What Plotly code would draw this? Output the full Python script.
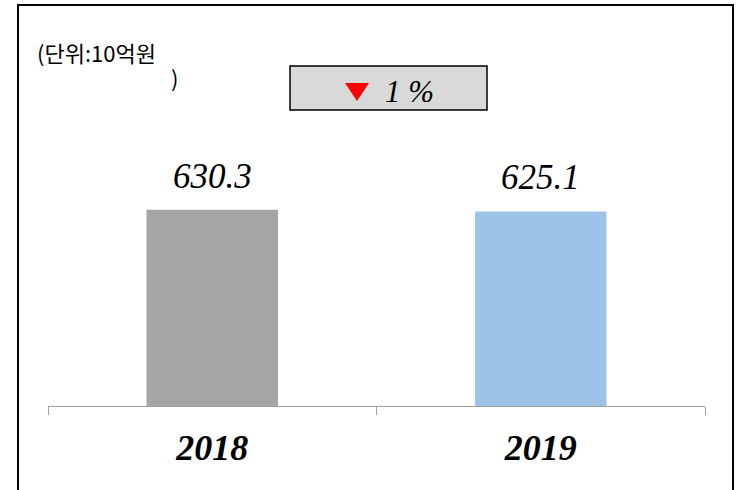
import plotly.graph_objects as go

categories = ["2018", "2019"]
values = [630.3, 625.1]
value_labels = ["630.3", "625.1"]
bar_colors = ["#a5a5a5", "#9dc3e6"]
change_label = "1 %"
unit_label_line1 = "(단위:10억원"
unit_label_line2 = ")"

W, H = 736, 490
L, R, T, B = 48, 31, 157, 84
pw, ph = W - L - R, H - T - B

def px(x):
    return (x - L) / pw

def py(y):
    return (H - B - y) / ph

SERIF = "Times New Roman, Liberation Serif, serif"

fig = go.Figure()
fig.add_trace(go.Bar(
    x=categories, y=values,
    marker=dict(color=bar_colors, line=dict(width=0)),
    hoverinfo="skip",
))

for i, (v, t) in enumerate(zip(values, value_labels)):
    fig.add_annotation(
        x=i, y=v, xref="x", yref="y", text=t, showarrow=False,
        yanchor="bottom", yshift=12,
        font=dict(family=SERIF, size=35, color="black", style="italic"),
    )

# outer border
fig.add_shape(type="rect", xref="paper", yref="paper",
              x0=px(18), x1=px(733), y0=py(520), y1=py(5),
              line=dict(color="black", width=2), fillcolor="rgba(0,0,0,0)", layer="above")
# change box
fig.add_shape(type="rect", xref="paper", yref="paper",
              x0=px(290), x1=px(487), y0=py(110), y1=py(66),
              line=dict(color="black", width=1.5), fillcolor="#d9d9d9")
# red triangle
fig.add_shape(type="path", xref="paper", yref="paper",
              path=f"M {px(345)},{py(83)} L {px(369)},{py(83)} L {px(357)},{py(101)} Z",
              line=dict(width=0), fillcolor="#ff0000")
fig.add_annotation(x=px(383), y=py(91), xref="paper", yref="paper", text=change_label,
                   showarrow=False, xanchor="left", yanchor="middle",
                   font=dict(family=SERIF, size=31, color="black", style="italic"))
fig.add_annotation(x=px(35), y=py(52), xref="paper", yref="paper", text=unit_label_line1,
                   showarrow=False, xanchor="left", yanchor="middle",
                   font=dict(family="Noto Sans CJK KR", size=22, color="black"))
fig.add_annotation(x=px(180), y=py(77), xref="paper", yref="paper", text=unit_label_line2,
                   showarrow=False, xanchor="right", yanchor="middle",
                   font=dict(family="Noto Sans CJK KR", size=22, color="black"))

fig.update_layout(
    width=W, height=H,
    margin=dict(l=L, r=R, t=T, b=B, autoexpand=False),
    paper_bgcolor="white", plot_bgcolor="white",
    bargap=0.6, showlegend=False,
    xaxis=dict(
        type="category", range=[-0.5, 1.5], automargin=False,
        showline=True, linecolor="#a0a0a0", linewidth=1,
        ticks="outside", tickson="boundaries", ticklen=8, tickcolor="#a0a0a0",
        showgrid=False, zeroline=False, tickangle=0,
        tickfont=dict(family=SERIF, size=36, color="black", style="italic", weight="bold"),
        ticklabelstandoff=10,
    ),
    yaxis=dict(range=[0, 800], visible=False, showgrid=False, zeroline=False, automargin=False),
)

fig.write_html("out.html", config={"displayModeBar": False},
               post_script="document.body.style.margin='0';document.body.style.overflow='hidden';")
